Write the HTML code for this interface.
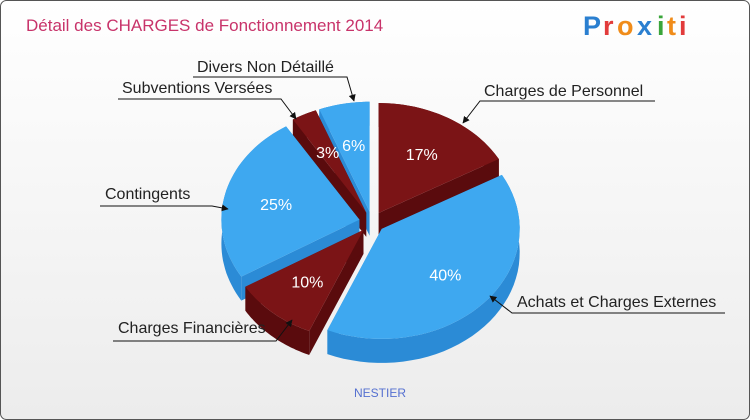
<!DOCTYPE html>
<html><head><meta charset="utf-8"><style>
html,body{margin:0;padding:0;width:750px;height:420px;overflow:hidden}
body{font-family:"Liberation Sans",sans-serif}
</style></head><body>
<svg width="750" height="420" viewBox="0 0 750 420" xmlns="http://www.w3.org/2000/svg">
<defs>
<linearGradient id="bg" x1="0" y1="0" x2="0" y2="1"><stop offset="0" stop-color="#ffffff"/><stop offset="1" stop-color="#ececec"/></linearGradient>
<marker id="ar" viewBox="0 0 10 10" refX="9" refY="5" markerWidth="7" markerHeight="7" orient="auto"><path d="M0,0L10,5L0,10z" fill="#111"/></marker>
</defs>
<rect x="0.5" y="0.5" width="749" height="419" rx="6" fill="url(#bg)" stroke="#555"/>
<text x="26" y="31" font-size="17" fill="#c8336a">Détail des CHARGES de Fonctionnement 2014</text>
<g font-size="27" font-weight="bold">
<text x="583" y="35" fill="#2a7fd0">P</text><text x="603" y="35" fill="#e23b3b">r</text><text x="617" y="35" fill="#f08c1a">o</text><text x="637" y="35" fill="#2a7fd0">x</text><text x="657" y="35" fill="#3aa53a">i</text><text x="667" y="35" fill="#f08c1a">t</text><text x="679" y="35" fill="#e23b3b">i</text>
</g>
<g id="pie"></g>
<g id="labels" font-size="16" fill="#222"></g>
<text x="380" y="397" font-size="12" fill="#5570d0" text-anchor="middle">NESTIER</text>
</svg>
<script>
const categories=["Charges de Personnel","Achats et Charges Externes","Charges Financières","Contingents","Subventions Versées","Divers Non Détaillé"];
const values=[17,40,10,25,3,6];
const pctLabels=["17%","40%","10%","25%","3%","6%"];
const NS="http://www.w3.org/2000/svg";
const cx=372,cy=222,rx=138,ry=110,depth=24,explode=13;
const tops=["#7b1416","#3ea8f0"],sides=["#5a0b0d","#2b8bd6"];
const total=values.reduce((a,b)=>a+b,0);
const pie=document.getElementById('pie');
function P(x,y){return x.toFixed(1)+","+y.toFixed(1);}
let slices=[],a=-Math.PI/2;
values.forEach((v,i)=>{const s=a,e=a+v/total*2*Math.PI;a=e;const m=(s+e)/2;
slices.push({i,s,e,m,ox:explode*Math.cos(m),oy:explode*0.8*Math.sin(m)});});
function pt(sl,t,dz){return [cx+sl.ox+rx*Math.cos(t),cy+sl.oy+ry*Math.sin(t)+dz];}
const order=[...slices].sort((p,q)=>Math.sin(p.m)-Math.sin(q.m));
order.forEach(sl=>{
  const c=sides[sl.i%2];
  [sl.s,sl.e].forEach(t=>{const o=pt(sl,t,0),c0=[cx+sl.ox,cy+sl.oy];
    const w=document.createElementNS(NS,'path');
    w.setAttribute('d',`M${P(c0[0],c0[1])}L${P(o[0],o[1])}L${P(o[0],o[1]+depth)}L${P(c0[0],c0[1]+depth)}Z`);
    w.setAttribute('fill',c);
    
    
    pie.appendChild(w);});
  let d="",N=40,pts=[];
  for(let k=0;k<=N;k++){pts.push(pt(sl,sl.s+(sl.e-sl.s)*k/N,0));}
  d="M"+pts.map(p=>P(p[0],p[1])).join("L");
  d+="L"+pts.slice().reverse().map(p=>P(p[0],p[1]+depth)).join("L")+"Z";
  const sd=document.createElementNS(NS,'path');
  sd.setAttribute('d',d);sd.setAttribute('fill',c);
  
  
  pie.appendChild(sd);
});
order.forEach(sl=>{
  let N=40,pts=[];
  for(let k=0;k<=N;k++){pts.push(pt(sl,sl.s+(sl.e-sl.s)*k/N,0));}
  const tp=document.createElementNS(NS,'path');
  tp.setAttribute('d',`M${P(cx+sl.ox,cy+sl.oy)}L`+pts.map(p=>P(p[0],p[1])).join("L")+"Z");
  tp.setAttribute('fill',tops[sl.i%2]);
  
  
  pie.appendChild(tp);
  const t=document.createElementNS(NS,'text');
  const lp=[cx+sl.ox+rx*0.62*Math.cos(sl.m),cy+sl.oy+ry*0.62*Math.sin(sl.m)+6];
  t.setAttribute('x',lp[0]);t.setAttribute('y',lp[1]);
  t.setAttribute('text-anchor','middle');t.setAttribute('font-size','16');t.setAttribute('fill','#fff');
  t.textContent=pctLabels[sl.i];
  
  
  pie.appendChild(t);
});
const labelText=[[484,96],[517,307],[118,333],[105,199],[122,93],[197,72]];
const labelLines=[[[655,101],[480,101],[463,123]],[[725,313],[512,313],[490,296]],[[113,341],[276,341],[292,320]],[[100,206],[212,206],[228,209]],[[118,99],[281,99],[296,119]],[[193,77],[347,77],[354,101]]];
const lg=document.getElementById('labels');
categories.forEach((c,i)=>{
  const t=document.createElementNS(NS,'text');
  t.setAttribute('x',labelText[i][0]);t.setAttribute('y',labelText[i][1]);t.textContent=c;
  
  
  lg.appendChild(t);
  const l=document.createElementNS(NS,'polyline');
  l.setAttribute('points',labelLines[i].map(p=>p.join(",")).join(" "));
  l.setAttribute('fill','none');l.setAttribute('stroke','#111');l.setAttribute('stroke-width','1');
  l.setAttribute('marker-end','url(#ar)');
  
  
  lg.appendChild(l);
});
</script>
</body></html>
